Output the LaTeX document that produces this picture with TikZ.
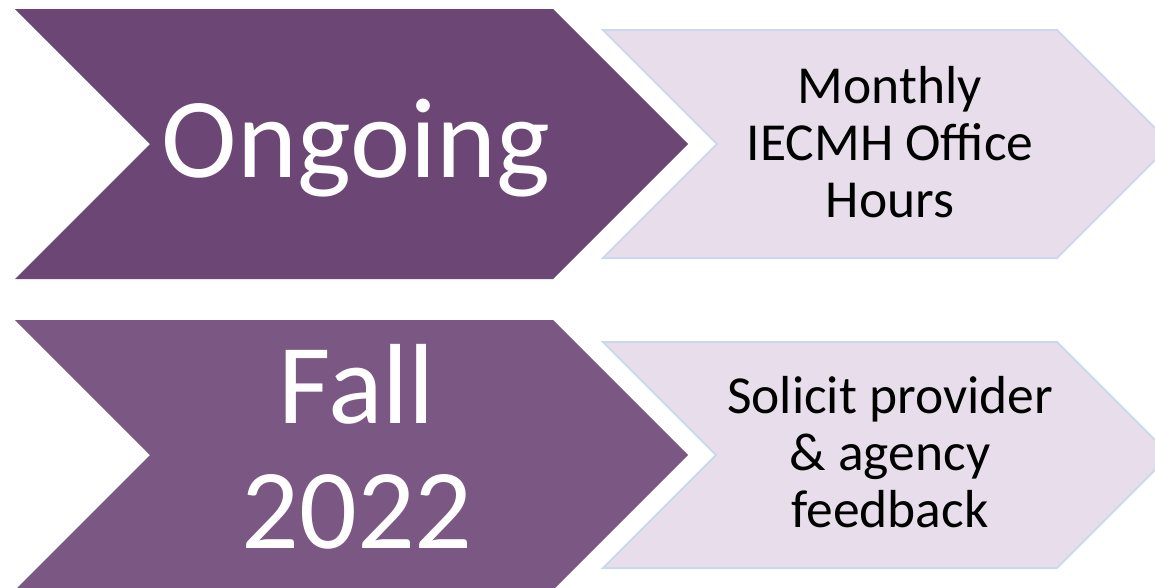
\documentclass[tikz,border=0pt]{standalone}
\usepackage{fontspec}
\setmainfont{Carlito}
\definecolor{moradoA}{HTML}{6C4675}
\definecolor{moradoB}{HTML}{7B5883}
\definecolor{lila}{HTML}{E8DEEB}
\definecolor{bordeLila}{HTML}{CCD8EC}
\begin{document}
\begin{tikzpicture}[x=1pt, y=-1pt,
      claro/.style={fill=lila, draw=bordeLila, line width=2pt},
      titulo/.style={text=white, align=center, anchor=base,
        font=\fontsize{114}{125}\selectfont},
      detalle/.style={text=black, align=center, anchor=base,
        font=\fontsize{53.5}{57}\selectfont}]
      \useasboundingbox (0,0) rectangle (1155,587);
      \clip (0,0) rectangle (1155,587);

      % Primera fila: Ongoing
      \fill[moradoA] (15,9) -- (553,9) -- (688,144) -- (553,279) --
        (15,279) -- (150,144) -- cycle;
      \filldraw[claro] (603,30) -- (1057,30) -- (1171,144) -- (1057,258) --
        (603,258) -- (717,144) -- cycle;
      \node[titulo] (ongoing) at (356,177) {Ongoing};
      \node[detalle] (horas) at (890,217) {Monthly\\IECMH Office\\Hours};

      % Segunda fila: Fall 2022 (base = ultima linea)
      \fill[moradoB] (15,320) -- (553,320) -- (688,455) -- (553,590) --
        (15,590) -- (150,455) -- cycle;
      \filldraw[claro] (603,342) -- (1057,342) -- (1170,455) -- (1057,568) --
        (603,568) -- (716,455) -- cycle;
      \node[titulo] (otono) at (357,548) {Fall\\2022};
      \node[detalle] (opiniones) at (890,527) {Solicit provider\\\& agency\\feedback};
    \end{tikzpicture}
\end{document}
